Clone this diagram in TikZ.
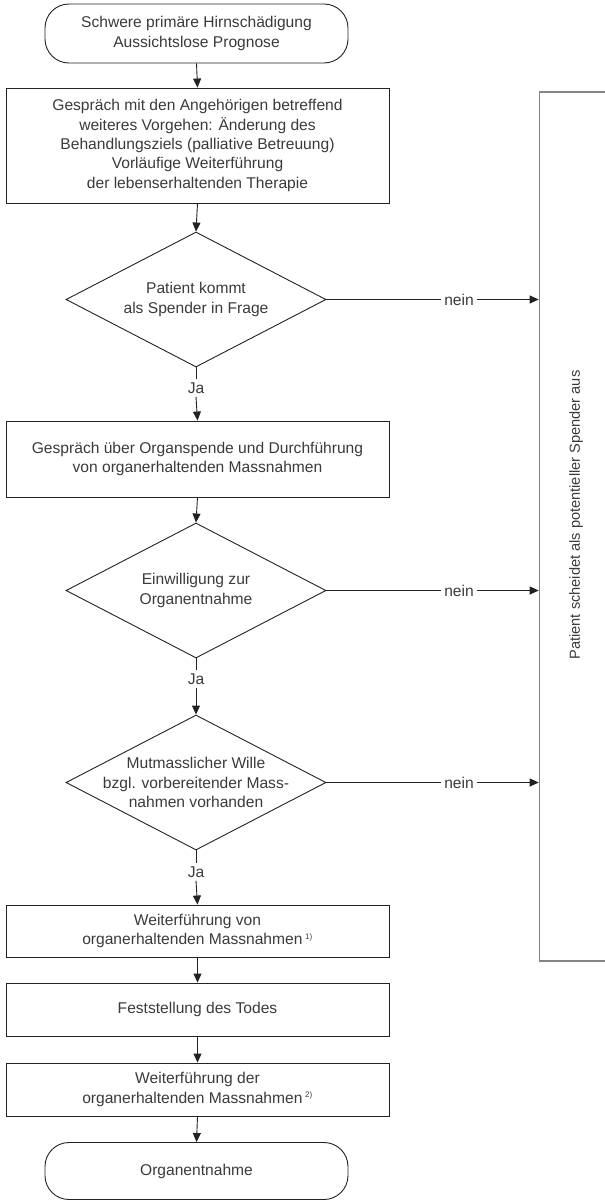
\documentclass[tikz,border=0pt]{standalone}
\usepackage{fontspec}
\setmainfont{Liberation Sans}
\usetikzlibrary{shapes.geometric,arrows.meta}
\definecolor{txt}{HTML}{3A3A3A}
\definecolor{ln}{HTML}{222222}
\definecolor{sidegray}{HTML}{858585}
\begin{document}
\begin{tikzpicture}[x=1pt,y=-1pt,
  every node/.style={text=txt,font=\fontsize{15.6}{19.3}\selectfont,align=center},
  term/.style={draw=ln,line width=0.9pt,rectangle,rounded corners=24pt,minimum width=303pt,inner sep=0pt},
  procbox/.style={draw=ln,line width=0.9pt,rectangle,minimum width=383pt,inner sep=0pt},
  decbox/.style={draw=ln,line width=0.9pt,diamond,minimum width=260pt,minimum height=135pt,inner sep=0pt},
  lbl/.style={inner sep=3pt},
  conn/.style={draw=ln,line width=0.9pt},
  arr/.style={conn,-{Triangle[length=9pt,width=8pt]}},
  sidebox/.style={draw=sidegray,line width=1.6pt,rectangle,inner sep=0pt}
]
\useasboundingbox (0,0) rectangle (605,1202);

% terminals and boxes
\node[term,minimum height=59pt] (t1) at (196.5,33.5) {Schwere primäre Hirnschädigung\\Aussichtslose Prognose};
\node[procbox,minimum height=115pt] (b2) at (197.5,145.5) {Gespräch mit den Angehörigen betreffend\\weiteres Vorgehen: Änderung des\\Behandlungsziels (palliative Betreuung)\\Vorläufige Weiterführung\\der lebenserhaltenden Therapie};

\node[decbox] (d1) at (196,299.5) {};
\node (d1t) at (d1.center) {Patient kommt\\als Spender in Frage};
\node[lbl] (ja1) at (196,388) {Ja};

\node[procbox,minimum height=76pt] (b3) at (197.5,459) {Gespräch über Organspende und Durchführung\\von organerhaltenden Massnahmen};

\node[decbox] (d2) at (196,590.5) {};
\node (d2t) at (d2.center) {Einwilligung zur\\Organentnahme};
\node[lbl] (ja2) at (196,679) {Ja};

\node[decbox] (d3) at (196,782.5) {};
\node (d3t) at (d3.center) {Mutmasslicher Wille\\bzgl. vorbereitender Mass-\\nahmen vorhanden};
\node[lbl] (ja3) at (196,872) {Ja};

\node[procbox,minimum height=52pt] (b4) at (197.5,931) {Weiterführung von\\organerhaltenden Massnahmen\,\textsuperscript{\fontsize{8}{8}\selectfont 1)}};
\node[procbox,minimum height=53pt] (b5) at (197.5,1009.5) {Feststellung des Todes};
\node[procbox,minimum height=53pt] (b6) at (197.5,1089.5) {Weiterführung der\\organerhaltenden Massnahmen\,\textsuperscript{\fontsize{8}{8}\selectfont 2)}};
\node[term,minimum height=57pt] (t2) at (196.5,1171) {Organentnahme};

% side box (open to the right, cut by page edge)
\node[sidebox,minimum width=120pt,minimum height=869pt] (side) at (599.5,526.5) {};
\node[rotate=90,font=\fontsize{14.6}{17}\selectfont] (sidet) at (576,515) {Patient scheidet als potentieller Spender aus};

% nein labels
\node[lbl] (n1) at (459,299.5) {nein};
\node[lbl] (n2) at (459,590.5) {nein};
\node[lbl] (n3) at (459,782.5) {nein};

% main flow
\draw[arr] (t1.south) -- (b2.north);
\draw[arr] (b2.south) -- (d1.north);
\draw[conn] (d1.south) -- (ja1.north);
\draw[arr] (ja1.south) -- (b3.north);
\draw[arr] (b3.south) -- (d2.north);
\draw[conn] (d2.south) -- (ja2.north);
\draw[arr] (ja2.south) -- (d3.north);
\draw[conn] (d3.south) -- (ja3.north);
\draw[arr] (ja3.south) -- (b4.north);
\draw[arr] (b4.south) -- (b5.north);
\draw[arr] (b5.south) -- (b6.north);
\draw[arr] (b6.south) -- (t2.north);

% nein branches
\draw[conn] (d1.east) -- (n1.west);
\draw[arr] (n1.east) -- (side.west |- n1.east);
\draw[conn] (d2.east) -- (n2.west);
\draw[arr] (n2.east) -- (side.west |- n2.east);
\draw[conn] (d3.east) -- (n3.west);
\draw[arr] (n3.east) -- (side.west |- n3.east);
\end{tikzpicture}
\end{document}
